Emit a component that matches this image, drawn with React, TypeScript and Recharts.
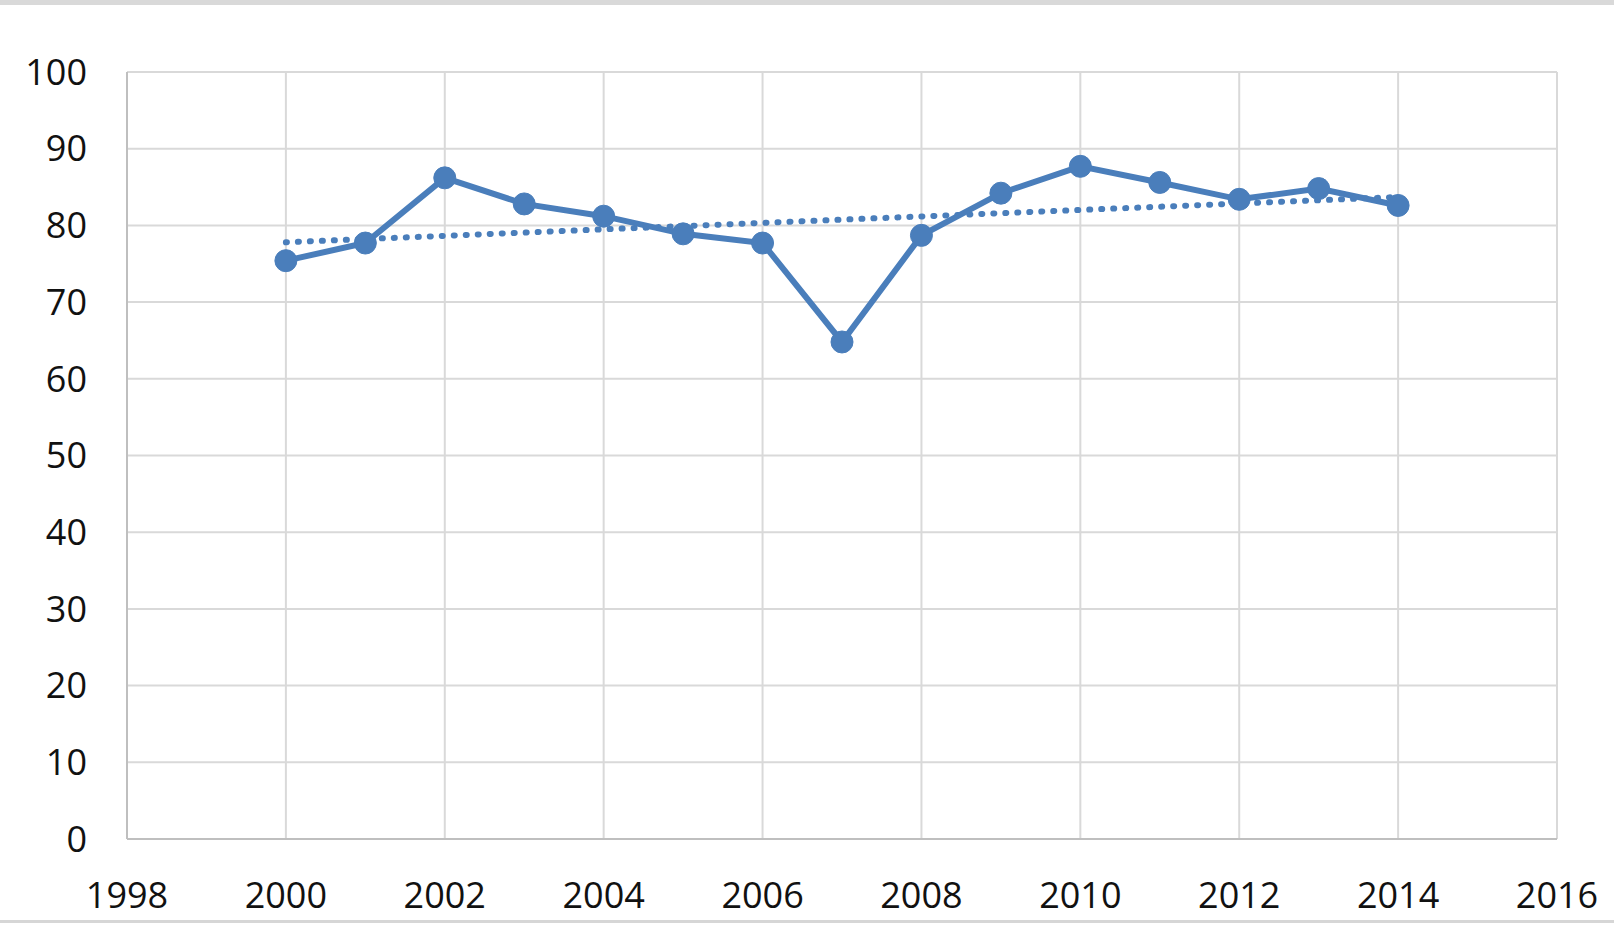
import { LineChart, Line, XAxis, YAxis, CartesianGrid } from 'recharts'

const years = [2000, 2001, 2002, 2003, 2004, 2005, 2006, 2007, 2008, 2009, 2010, 2011, 2012, 2013, 2014]
const values = [75.4, 77.7, 86.2, 82.8, 81.2, 78.9, 77.7, 64.8, 78.7, 84.2, 87.7, 85.6, 83.4, 84.8, 82.6]

// linear trendline as drawn in the picture (start / end only)
const trendYears = [2000, 2014]
const trendValues = [77.8, 83.7]

const xTicks = [1998, 2000, 2002, 2004, 2006, 2008, 2010, 2012, 2014, 2016]
const yTicks = [0, 10, 20, 30, 40, 50, 60, 70, 80, 90, 100]

const data = years.map((year, i) => {
  const t = trendYears.indexOf(year)
  return { year, value: values[i], trend: t >= 0 ? trendValues[t] : null }
})

const blue = '#4a7ebb'
const tickStyle = { fontSize: 36, fill: '#111', fontFamily: '"Open Sans", sans-serif' }

export default function App() {
  return (
    <div style={{ position: 'absolute', left: 0, top: 0, width: 1614, height: 925, background: '#fff' }}>
      <div style={{ position: 'absolute', left: 0, top: 0, width: 1614, height: 5, background: '#d9d9d9' }} />
      <div style={{ position: 'absolute', left: 0, top: 920, width: 1614, height: 3, background: '#d6d6d6' }} />
      <LineChart
        width={1614}
        height={925}
        data={data}
        margin={{ top: 72, right: 57, left: 0, bottom: 0 }}
      >
        <CartesianGrid stroke="#d9d9d9" strokeWidth={2} />
        <XAxis
          dataKey="year"
          type="number"
          domain={[1998, 2016]}
          ticks={xTicks}
          height={86}
          tickSize={0}
          tickMargin={43}
          stroke="#bfbfbf"
          strokeWidth={2}
          tick={tickStyle}
          interval={0}
        />
        <YAxis
          domain={[0, 100]}
          ticks={yTicks}
          width={127}
          tickSize={0}
          tickMargin={40}
          stroke="#bfbfbf"
          strokeWidth={2}
          tick={tickStyle}
          interval={0}
        />
        <Line
          dataKey="trend"
          connectNulls
          stroke={blue}
          strokeWidth={6}
          strokeDasharray="1 11"
          strokeLinecap="round"
          dot={false}
          isAnimationActive={false}
        />
        <Line
          dataKey="value"
          stroke={blue}
          strokeWidth={6}
          dot={{ r: 11, fill: blue, stroke: blue, strokeWidth: 1 }}
          isAnimationActive={false}
        />
      </LineChart>
    </div>
  )
}
